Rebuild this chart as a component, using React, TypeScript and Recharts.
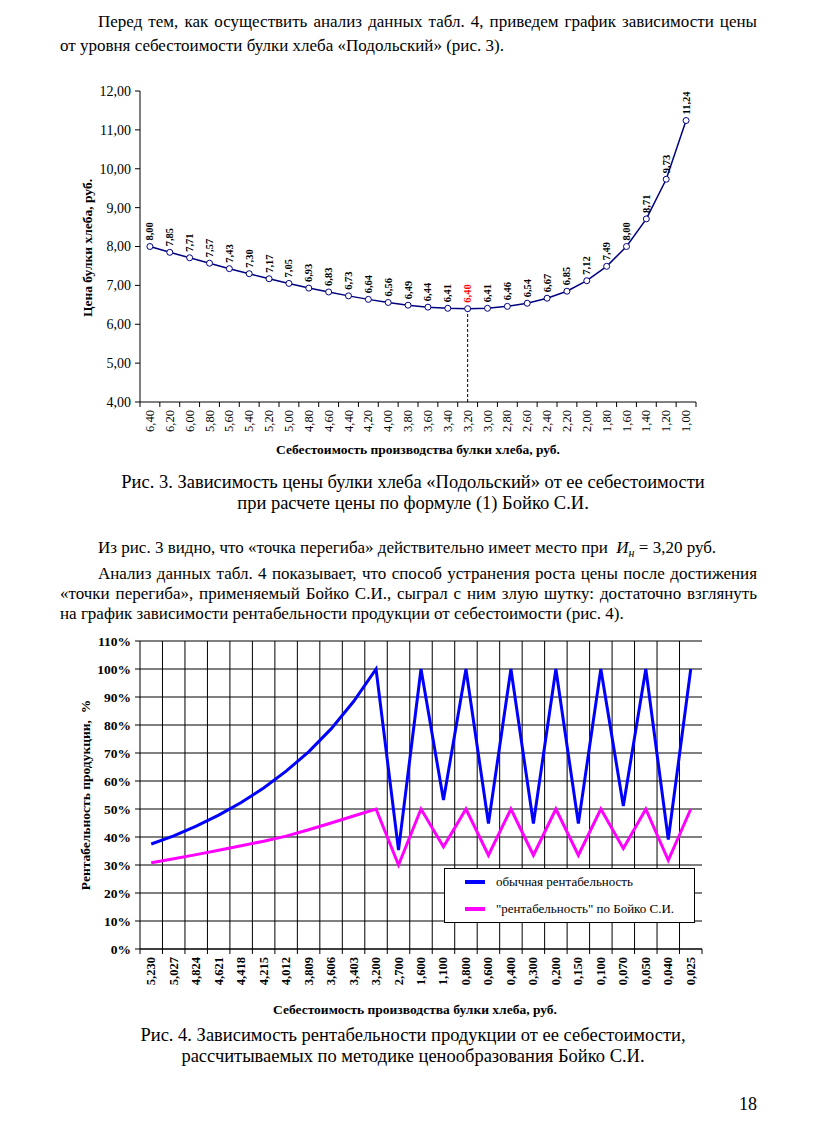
import React from 'react';
import {
  LineChart,
  Line,
  XAxis,
  YAxis,
  CartesianGrid,
  ReferenceLine,
  LabelList,
  Legend,
} from 'recharts';

const SERIF = '"Liberation Serif", "Times New Roman", serif';

// ---------- Figure 3 data ----------
const costLabels1 = [
  '6,40', '6,20', '6,00', '5,80', '5,60', '5,40', '5,20', '5,00', '4,80', '4,60',
  '4,40', '4,20', '4,00', '3,80', '3,60', '3,40', '3,20', '3,00', '2,80', '2,60',
  '2,40', '2,20', '2,00', '1,80', '1,60', '1,40', '1,20', '1,00',
];
const prices = [
  8.0, 7.85, 7.71, 7.57, 7.43, 7.3, 7.17, 7.05, 6.93, 6.83,
  6.73, 6.64, 6.56, 6.49, 6.44, 6.41, 6.4, 6.41, 6.46, 6.54,
  6.67, 6.85, 7.12, 7.49, 8.0, 8.71, 9.73, 11.24,
];
const priceTicks = [4, 5, 6, 7, 8, 9, 10, 11, 12];

// ---------- Figure 4 data ----------
const costLabels2 = [
  '5,230', '5,027', '4,824', '4,621', '4,418', '4,215', '4,012', '3,809', '3,606', '3,403',
  '3,200', '2,700', '1,600', '1,100', '0,800', '0,600', '0,400', '0,300', '0,200', '0,150',
  '0,100', '0,070', '0,050', '0,040', '0,025',
];
const normalProfit = [
  37.5, 40.4, 43.9, 47.8, 52.3, 57.5, 63.5, 70.4, 78.6, 88.4,
  100, 35.3, 100, 53.2, 100, 44.8, 100, 44.8, 100, 44.8,
  100, 51.1, 100, 39.1, 100,
];
const boikoProfit = [
  30.8, 32.2, 33.7, 35.3, 36.9, 38.5, 40.3, 42.6, 45.0, 47.5,
  50, 30, 50, 36.5, 50, 33.5, 50, 33.5, 50, 33.5,
  50, 35.9, 50, 31.7, 50,
];
const profitTicks = [0, 10, 20, 30, 40, 50, 60, 70, 80, 90, 100, 110];

const seriesNames = ['обычная рентабельность', '"рентабельность" по Бойко С.И.'];

// ---------- helpers ----------
const fmt2 = (v: number) => v.toFixed(2).replace('.', ',');

const data1 = prices.map((p, i) => ({ x: i + 0.5, price: p }));
const data2 = costLabels2.map((_, i) => ({
  x: i + 0.5,
  normal: normalProfit[i],
  boiko: boikoProfit[i],
}));

const bandTicks = (n: number) => {
  const t: number[] = [];
  for (let i = 0; i <= n; i++) {
    t.push(i);
    if (i < n) t.push(i + 0.5);
  }
  return t;
};
const innerBounds = (n: number) => {
  const t: number[] = [];
  for (let i = 1; i < n; i++) t.push(i);
  return t;
};

const makeXTick = (labels: string[], bold: boolean, fontSize: number) => (props: any) => {
  const { x, y, payload } = props;
  const v = payload.value as number;
  if (Number.isInteger(v)) {
    return <line x1={x} x2={x} y1={y} y2={y + 5} stroke="#000" strokeWidth={1} />;
  }
  return (
    <text
      transform={`translate(${x},${y + 8}) rotate(-90)`}
      textAnchor="end"
      dominantBaseline="central"
      fontFamily={SERIF}
      fontSize={fontSize}
      fontWeight={bold ? 'bold' : 'normal'}
      fill="#000"
    >
      {labels[Math.floor(v)]}
    </text>
  );
};

const minPrice = Math.min(...prices);
const minIndex = prices.indexOf(minPrice);

const PriceLabel = (props: any) => {
  const { x, y, value } = props;
  const isMin = value === minPrice;
  return (
    <text
      transform={`translate(${x},${y - 6}) rotate(-90)`}
      textAnchor="start"
      dominantBaseline="central"
      fontFamily={SERIF}
      fontSize={10.5}
      fontWeight="bold"
      fill={isMin ? '#ff0000' : '#000'}
    >
      {fmt2(value)}
    </text>
  );
};

const Txt = ({
  top,
  left,
  width,
  justify,
  center,
  size = 17,
  children,
}: {
  top: number;
  left: number;
  width?: number;
  justify?: boolean;
  center?: boolean;
  size?: number;
  children: React.ReactNode;
}) => (
  <div
    style={{
      position: 'absolute',
      top,
      left,
      width,
      fontSize: size,
      lineHeight: '20px',
      whiteSpace: 'pre',
      textAlign: justify ? 'justify' : center ? 'center' : 'left',
      textAlignLast: justify ? 'justify' : center ? 'center' : 'left',
    } as React.CSSProperties}
  >
    {children}
  </div>
);

const AxisTitle = ({
  x,
  y,
  rotate,
  children,
}: {
  x: number;
  y: number;
  rotate?: boolean;
  children: React.ReactNode;
}) => (
  <div
    style={{
      position: 'absolute',
      left: x,
      top: y,
      transform: `translate(-50%,-50%)${rotate ? ' rotate(-90deg)' : ''}`,
      fontSize: 13.5,
      fontWeight: 'bold',
      whiteSpace: 'pre',
      lineHeight: '16px',
    }}
  >
    {children}
  </div>
);

const LegendBox = (props: any) => {
  const payload = [...(props.payload || [])].sort(
    (a: any, b: any) => seriesNames.indexOf(a.value) - seriesNames.indexOf(b.value)
  );
  return (
    <div style={{ position: 'relative', width: '100%', height: '100%' }}>
      {payload.map((e: any, i: number) => (
        <div
          key={i}
          style={{
            position: 'absolute',
            left: 20,
            top: 5 + i * 27,
            height: 16,
            display: 'flex',
            alignItems: 'center',
            whiteSpace: 'nowrap',
          }}
        >
          <span style={{ display: 'inline-block', width: 20, height: 4, background: e.color }} />
          <span style={{ marginLeft: 11, fontFamily: SERIF, fontSize: 13 }}>{e.value}</span>
        </div>
      ))}
    </div>
  );
};

export default function App() {
  const n1 = costLabels1.length;
  const n2 = costLabels2.length;
  return (
    <div
      style={{
        position: 'absolute',
        left: 0,
        top: 0,
        width: 836,
        height: 1125,
        background: '#fff',
        color: '#000',
        fontFamily: SERIF,
        overflow: 'hidden',
      }}
    >
      {/* Paragraph 1 */}
      <Txt top={12} left={98} width={659} justify>
        Перед тем, как осуществить анализ данных табл. 4, приведем график зависимости цены
      </Txt>
      <Txt top={36} left={60}>
        от уровня себестоимости булки хлеба «Подольский» (рис. 3).
      </Txt>

      {/* Figure 3 */}
      <div style={{ position: 'absolute', left: 0, top: 0 }}>
        <LineChart
          width={836}
          height={470}
          data={data1}
          margin={{ top: 91, right: 140, left: 80, bottom: 8 }}
        >
          <XAxis
            dataKey="x"
            type="number"
            domain={[0, n1]}
            ticks={bandTicks(n1)}
            interval={0}
            height={60}
            tickSize={0}
            tickMargin={0}
            tickLine={false}
            axisLine={{ stroke: '#000' }}
            tick={makeXTick(costLabels1, false, 12.5)}
          />
          <XAxis
            xAxisId="top"
            orientation="top"
            dataKey="x"
            type="number"
            domain={[0, n1]}
            height={0}
            tick={false}
            tickLine={false}
            axisLine={{ stroke: '#808080' }}
          />
          <YAxis
            type="number"
            domain={[4, 12]}
            ticks={priceTicks}
            interval={0}
            width={60}
            tickSize={5}
            tickMargin={4}
            tickLine={{ stroke: '#000' }}
            axisLine={{ stroke: '#000' }}
            tickFormatter={fmt2}
            tick={{ fontFamily: SERIF, fontSize: 14, fill: '#000' }}
          />
          <YAxis
            yAxisId="right"
            orientation="right"
            type="number"
            domain={[4, 12]}
            width={0}
            tick={false}
            tickLine={false}
            axisLine={{ stroke: '#808080' }}
          />
          <ReferenceLine
            segment={[
              { x: minIndex + 0.5, y: priceTicks[0] },
              { x: minIndex + 0.5, y: minPrice },
            ]}
            stroke="#000"
            strokeDasharray="3 2"
          />
          <Line
            type="linear"
            dataKey="price"
            stroke="#000080"
            strokeWidth={1.5}
            dot={{ r: 3, fill: '#fff', stroke: '#000080', strokeWidth: 1 }}
            isAnimationActive={false}
          >
            <LabelList dataKey="price" content={PriceLabel} />
          </Line>
        </LineChart>
      </div>
      <AxisTitle x={88} y={248} rotate>
        Цена булки хлеба, руб.
      </AxisTitle>
      <AxisTitle x={418} y={450}>
        Себестоимость производства булки хлеба, руб.
      </AxisTitle>

      {/* Caption 3 */}
      <Txt top={472} left={13} width={800} center size={18.5}>
        Рис. 3. Зависимость цены булки хлеба «Подольский» от ее себестоимости
      </Txt>
      <Txt top={493} left={13} width={800} center size={18.5}>
        при расчете цены по формуле (1) Бойко С.И.
      </Txt>

      {/* Paragraphs 2, 3 */}
      <Txt top={538} left={98}>
        {'Из рис. 3 видно, что «точка перегиба» действительно имеет место при  '}
        <i>И</i>
        <sub style={{ fontSize: 12, fontStyle: 'italic' }}>н</sub>
        {' = 3,20 руб.'}
      </Txt>
      <Txt top={564} left={98} width={659} justify>
        Анализ данных табл. 4 показывает, что способ устранения роста цены после достижения
      </Txt>
      <Txt top={584} left={60} width={697} justify>
        «точки перегиба», применяемый Бойко С.И., сыграл с ним злую шутку: достаточно взглянуть
      </Txt>
      <Txt top={604} left={60}>
        на график зависимости рентабельности продукции от себестоимости (рис. 4).
      </Txt>

      {/* Figure 4 */}
      <div style={{ position: 'absolute', left: 0, top: 600, width: 836, height: 430 }}>
        <LineChart
          width={836}
          height={430}
          data={data2}
          margin={{ top: 41, right: 134, left: 80, bottom: 31 }}
        >
          <CartesianGrid stroke="#000" strokeWidth={1} verticalValues={innerBounds(n2)} />
          <XAxis
            dataKey="x"
            type="number"
            domain={[0, n2]}
            ticks={bandTicks(n2)}
            interval={0}
            height={50}
            tickSize={0}
            tickMargin={0}
            tickLine={false}
            axisLine={{ stroke: '#000' }}
            tick={makeXTick(costLabels2, true, 12.5)}
          />
          <YAxis
            type="number"
            domain={[0, 110]}
            ticks={profitTicks}
            interval={0}
            width={60}
            tickSize={5}
            tickMargin={4}
            tickLine={{ stroke: '#000' }}
            axisLine={{ stroke: '#000' }}
            tickFormatter={(v: number) => `${v}%`}
            tick={{ fontFamily: SERIF, fontSize: 13.5, fill: '#000', fontWeight: 'bold' }}
          />
          <YAxis
            yAxisId="right"
            orientation="right"
            type="number"
            domain={[0, 110]}
            width={0}
            tick={false}
            tickLine={false}
            axisLine={{ stroke: '#808080' }}
          />
          <Line
            type="linear"
            dataKey="normal"
            name={seriesNames[0]}
            stroke="#0000ff"
            strokeWidth={3}
            dot={false}
            isAnimationActive={false}
          />
          <Line
            type="linear"
            dataKey="boiko"
            name={seriesNames[1]}
            stroke="#ff00ff"
            strokeWidth={3}
            dot={false}
            isAnimationActive={false}
          />
          <Legend
            layout="vertical"
            align="center"
            verticalAlign="middle"
            content={LegendBox}
            wrapperStyle={{
              position: 'absolute',
              left: 444,
              top: 268,
              width: 251,
              height: 55,
              border: '1px solid #000',
              background: '#fff',
              boxSizing: 'border-box',
            }}
          />
        </LineChart>
      </div>
      <AxisTitle x={86} y={795} rotate>
        {'Рентабельность продукции,  %'}
      </AxisTitle>
      <AxisTitle x={415} y={1010}>
        Себестоимость производства булки хлеба, руб.
      </AxisTitle>

      {/* Caption 4 */}
      <Txt top={1025} left={13} width={800} center size={18.5}>
        Рис. 4. Зависимость рентабельности продукции от ее себестоимости,
      </Txt>
      <Txt top={1046} left={13} width={800} center size={18.5}>
        рассчитываемых по методике ценообразования Бойко С.И.
      </Txt>

      {/* Page number */}
      <div style={{ position: 'absolute', left: 739, top: 1094, fontSize: 18, lineHeight: '20px' }}>18</div>
    </div>
  );
}
